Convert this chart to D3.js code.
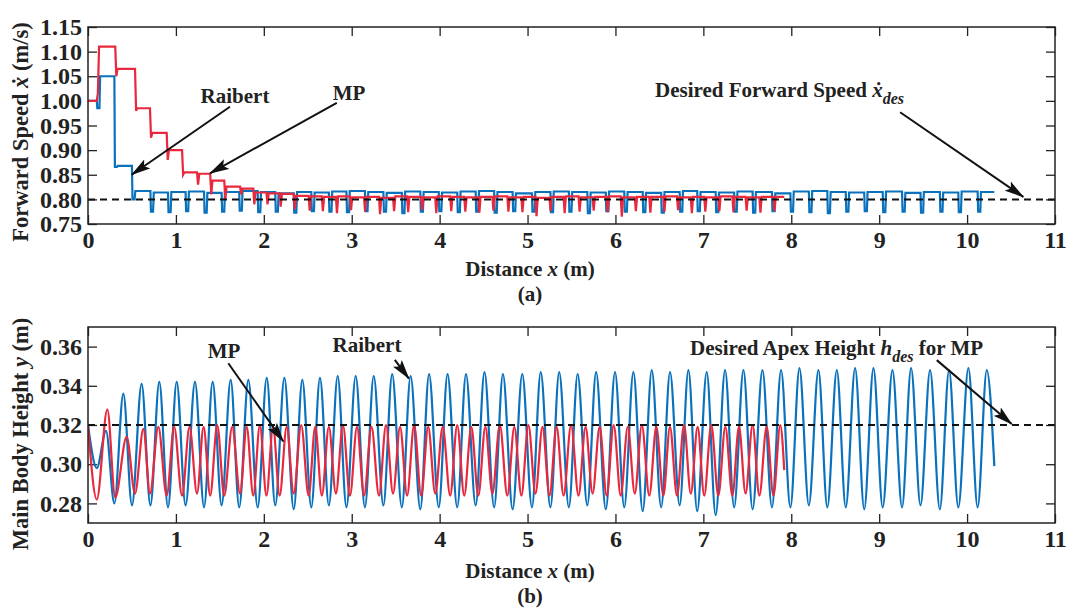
<!DOCTYPE html>
<html>
<head>
<meta charset="utf-8">
<script src="https://cdn.jsdelivr.net/npm/d3@7"></script>
<style>
body { margin: 0; background: #fff; }
svg { font-family: "Liberation Serif", "Times New Roman", serif; font-weight: bold; }
</style>
</head>
<body>
<div id="chart"></div>
<script>
// ---- data ----
const distTicks = [0, 1, 2, 3, 4, 5, 6, 7, 8, 9, 10, 11]
const speedTicks = [0.75, 0.80, 0.85, 0.90, 0.95, 1.00, 1.05, 1.10, 1.15]
const heightTicks = [0.28, 0.30, 0.32, 0.34, 0.36]
const desiredSpeed = 0.80
const desiredHeight = 0.32

// Raibert (blue): touchdown positions (m), apex positions (m)
const raibertTouchX = [0.10, 0.30, 0.50, 0.71, 0.91, 1.11, 1.32, 1.52, 1.72, 1.93, 2.13, 2.34, 2.54, 2.74, 2.94, 3.15,
  3.36, 3.57, 3.78, 3.99, 4.20, 4.41, 4.62, 4.83, 5.05, 5.26, 5.47, 5.68, 5.89, 6.10, 6.31, 6.52, 6.73, 6.93,
  7.14, 7.35, 7.56, 7.78, 7.99, 8.20, 8.41, 8.62, 8.83, 9.04, 9.26, 9.47, 9.69, 9.90, 10.12]
const raibertApexX = [0.205, 0.402, 0.61, 0.811, 1.009, 1.217, 1.418, 1.623, 1.824, 2.033, 2.234, 2.438, 2.639, 2.84, 3.045,
  3.25, 3.46, 3.67, 3.88, 4.09, 4.30, 4.51, 4.72, 4.94, 5.15, 5.36, 5.57, 5.78, 5.995, 6.204, 6.413, 6.621, 6.83,
  7.038, 7.247, 7.456, 7.672, 7.884, 8.093, 8.309, 8.518, 8.726, 8.935, 9.151, 9.363, 9.579, 9.795, 10.015, 10.224]
const raibertApexY = [0.317, 0.336, 0.341, 0.342, 0.342, 0.342, 0.342, 0.343, 0.343, 0.344, 0.344, 0.343, 0.344, 0.345, 0.345,
  0.345, 0.346, 0.345, 0.346, 0.346, 0.346, 0.347, 0.346, 0.346, 0.347, 0.347, 0.346, 0.347, 0.347, 0.347, 0.348, 0.347,
  0.348, 0.347, 0.348, 0.348, 0.348, 0.348, 0.349, 0.348, 0.348, 0.349, 0.349, 0.348, 0.349, 0.348, 0.348, 0.349, 0.348]
const raibertLowY = [0.298, 0.280, 0.279, 0.279, 0.278, 0.279, 0.278, 0.279, 0.278, 0.278, 0.279, 0.277, 0.278, 0.279, 0.278,
  0.278, 0.279, 0.278, 0.277, 0.278, 0.278, 0.279, 0.278, 0.277, 0.278, 0.278, 0.278, 0.279, 0.277, 0.278, 0.276, 0.278,
  0.279, 0.276, 0.274, 0.278, 0.277, 0.278, 0.278, 0.279, 0.278, 0.278, 0.277, 0.278, 0.278, 0.279, 0.277, 0.278, 0.278]
const raibertSpeed = [1.05, 0.868, 0.817, 0.814, 0.815, 0.816, 0.813, 0.815, 0.817, 0.815, 0.812, 0.815, 0.814, 0.816, 0.817,
  0.815, 0.813, 0.816, 0.815, 0.814, 0.816, 0.817, 0.815, 0.812, 0.815, 0.816, 0.815, 0.814, 0.816, 0.815, 0.813, 0.815,
  0.817, 0.815, 0.814, 0.816, 0.815, 0.812, 0.816, 0.817, 0.815, 0.814, 0.815, 0.816, 0.813, 0.815, 0.814, 0.816, 0.815]
const raibertDip = [0.985, 0.866, 0.80, 0.775, 0.774, 0.776, 0.773, 0.775, 0.777, 0.774, 0.775, 0.773, 0.776, 0.775, 0.774,
  0.776, 0.775, 0.772, 0.775, 0.776, 0.774, 0.775, 0.773, 0.776, 0.775, 0.774, 0.775, 0.772, 0.776, 0.775, 0.774, 0.773,
  0.775, 0.776, 0.774, 0.775, 0.773, 0.776, 0.775, 0.774, 0.772, 0.775, 0.776, 0.774, 0.775, 0.773, 0.775, 0.774, 0.775]
const raibertEnd = [10.31, 0.299]

// MP (red)
const mpTouchX = [0.10, 0.31, 0.535, 0.705, 0.895, 1.07, 1.24, 1.39, 1.55, 1.73, 1.88, 2.03, 2.18, 2.34, 2.51, 2.66,
  2.82, 2.98, 3.14, 3.31, 3.47, 3.63, 3.79, 3.95, 4.12, 4.28, 4.44, 4.60, 4.77, 4.93, 5.09, 5.25, 5.41, 5.58,
  5.74, 5.90, 6.06, 6.22, 6.385, 6.545, 6.70, 6.857, 7.01, 7.17, 7.33, 7.48, 7.637, 7.797]
const mpApexX = [0.22, 0.44, 0.63, 0.80, 0.98, 1.155, 1.315, 1.47, 1.64, 1.805, 1.955, 2.105, 2.26, 2.425, 2.585, 2.74,
  2.90, 3.06, 3.225, 3.39, 3.55, 3.71, 3.87, 4.035, 4.20, 4.36, 4.52, 4.685, 4.85, 5.01, 5.17, 5.33, 5.495, 5.66,
  5.82, 5.98, 6.14, 6.30, 6.465, 6.62, 6.78, 6.935, 7.09, 7.25, 7.405, 7.56, 7.72, 7.875]
const mpApexY = [0.328, 0.314, 0.318, 0.319, 0.319, 0.319, 0.319, 0.320, 0.319, 0.319, 0.320, 0.319, 0.319, 0.320, 0.319, 0.319,
  0.320, 0.319, 0.319, 0.320, 0.319, 0.320, 0.319, 0.319, 0.320, 0.319, 0.319, 0.320, 0.319, 0.320, 0.319, 0.319,
  0.320, 0.319, 0.319, 0.320, 0.319, 0.320, 0.319, 0.319, 0.320, 0.319, 0.320, 0.319, 0.319, 0.320, 0.319, 0.320]
const mpLowY = [0.282, 0.283, 0.285, 0.285, 0.284, 0.284, 0.285, 0.284, 0.284, 0.285, 0.284, 0.284, 0.284, 0.285, 0.284, 0.284,
  0.285, 0.284, 0.284, 0.284, 0.285, 0.284, 0.284, 0.285, 0.284, 0.284, 0.284, 0.285, 0.284, 0.284, 0.285, 0.284,
  0.284, 0.284, 0.285, 0.284, 0.284, 0.285, 0.284, 0.284, 0.284, 0.285, 0.284, 0.284, 0.284, 0.285, 0.284, 0.284]
const mpSpeed = [1.11, 1.065, 0.985, 0.935, 0.90, 0.855, 0.852, 0.838, 0.826, 0.822, 0.814, 0.812, 0.811, 0.807, 0.806,
  0.805, 0.806, 0.804, 0.805, 0.803, 0.806, 0.805, 0.804, 0.806, 0.805, 0.804, 0.805, 0.806, 0.804, 0.805, 0.803, 0.805,
  0.806, 0.804, 0.805, 0.806, 0.804, 0.805, 0.805, 0.806, 0.804, 0.805, 0.804, 0.806, 0.805, 0.804, 0.805, 0.805]
const mpDip = [1.015, 1.05, 0.98, 0.925, 0.88, 0.85, 0.83, 0.81, 0.80, 0.81, 0.79, 0.79, 0.785, 0.78, 0.777,
  0.776, 0.772, 0.778, 0.775, 0.770, 0.776, 0.774, 0.778, 0.772, 0.776, 0.775, 0.773, 0.777, 0.775, 0.774, 0.766, 0.776,
  0.772, 0.775, 0.777, 0.774, 0.765, 0.776, 0.773, 0.775, 0.778, 0.772, 0.775, 0.776, 0.774, 0.777, 0.773, 0.776]
const mpEnd = [7.92, 0.297]

const startSpeed = 1.00
const startHeight = 0.32

// ---- layout ----
const W = 1069, H = 613
const left = 88, right = 1055
const top1 = 27, bot1 = 224
const top2 = 327, bot2 = 523
const blue = "#0a72bd", red = "#e8283c"

const svg = d3.select("#chart").append("svg").attr("width", W).attr("height", H)
const defs = svg.append("defs")
defs.append("marker").attr("id", "arrow")
  .attr("markerUnits", "userSpaceOnUse")
  .attr("viewBox", "0 -6 20 12").attr("markerWidth", 20).attr("markerHeight", 12)
  .attr("refX", 19).attr("refY", 0).attr("orient", "auto")
  .append("path").attr("d", "M0,-5.5L20,0L0,5.5L4,0Z").attr("fill", "#111")

const x = d3.scaleLinear().domain([0, 11]).range([left, right])
const ySpeed = d3.scaleLinear().domain([0.75, 1.15]).range([bot1, top1])
const yHeight = d3.scaleLinear().domain([0.27, 0.37]).range([bot2, top2])

function frame(y, ticks, fmt, top, bot, clipId) {
  const g = svg.append("g")
  defs.append("clipPath").attr("id", clipId).append("rect")
    .attr("x", left).attr("y", top).attr("width", right - left).attr("height", bot - top)
  g.append("g").attr("transform", `translate(0,${bot})`)
    .call(d3.axisBottom(x).tickValues(distTicks).tickSizeInner(-9).tickSizeOuter(0).tickPadding(7).tickFormat(d3.format("d")))
  g.append("g").attr("transform", `translate(0,${top})`)
    .call(d3.axisTop(x).tickValues(distTicks).tickSizeInner(-9).tickSizeOuter(0).tickFormat(""))
  g.append("g").attr("transform", `translate(${left},0)`)
    .call(d3.axisLeft(y).tickValues(ticks).tickSizeInner(-9).tickSizeOuter(0).tickPadding(6).tickFormat(d3.format(fmt)))
  g.append("g").attr("transform", `translate(${right},0)`)
    .call(d3.axisRight(y).tickValues(ticks).tickSizeInner(-9).tickSizeOuter(0).tickFormat(""))
  g.selectAll(".domain").remove()
  g.selectAll(".tick line").attr("stroke", "#222").attr("stroke-width", 1.3)
  g.selectAll(".tick text").attr("font-size", 24).attr("font-family", "Liberation Serif").attr("font-weight", "bold").attr("fill", "#222")
  return g
}

const g1 = frame(ySpeed, speedTicks, ".2f", top1, bot1, "clip1")
const g2 = frame(yHeight, heightTicks, ".2f", top2, bot2, "clip2")

// speed traces: plateau, drop to dip at touchdown, back up to new plateau
function speedPoints(touch, dip, plateau, endX, shape) {
  const pts = [[0, startSpeed]]
  let prev = startSpeed
  touch.forEach((t, i) => {
    pts.push([t, prev])
    shape.forEach(s => pts.push([t + s[0], s[1] === "dip" ? dip[i] : plateau[i]]))
    prev = plateau[i]
  })
  pts.push([endX, prev])
  return pts
}
const uShape = [[0.006, "dip"], [0.03, "dip"], [0.038, "next"]]
const vShape = [[0.012, "dip"], [0.026, "next"]]

const lineSpeed = d3.line().x(d => x(d[0])).y(d => ySpeed(d[1]))
const plot1 = g1.append("g").attr("clip-path", "url(#clip1)")
plot1.append("path").datum(speedPoints(raibertTouchX, raibertDip, raibertSpeed, raibertEnd[0], uShape))
  .attr("d", lineSpeed).attr("fill", "none").attr("stroke", blue).attr("stroke-width", 2.2)
plot1.append("path").datum(speedPoints(mpTouchX, mpDip, mpSpeed, mpEnd[0], vShape))
  .attr("d", lineSpeed).attr("fill", "none").attr("stroke", red).attr("stroke-width", 2.2)
plot1.append("line").attr("x1", x(0)).attr("x2", x(11)).attr("y1", ySpeed(desiredSpeed)).attr("y2", ySpeed(desiredSpeed))
  .attr("stroke", "#111").attr("stroke-width", 2).attr("stroke-dasharray", "7,5")

// height traces: troughs at touchdown, apexes in flight
function heightPoints(touch, low, apexX, apexY, end) {
  const pts = [[0, startHeight]]
  touch.forEach((t, i) => {
    pts.push([t, low[i]])
    pts.push([apexX[i], apexY[i]])
  })
  pts.push(end)
  return pts
}
const lineHeight = d3.line().x(d => x(d[0])).y(d => yHeight(d[1])).curve(d3.curveMonotoneX)
const plot2 = g2.append("g").attr("clip-path", "url(#clip2)")
plot2.append("path").datum(heightPoints(raibertTouchX, raibertLowY, raibertApexX, raibertApexY, raibertEnd))
  .attr("d", lineHeight).attr("fill", "none").attr("stroke", blue).attr("stroke-width", 2.2)
plot2.append("path").datum(heightPoints(mpTouchX, mpLowY, mpApexX, mpApexY, mpEnd))
  .attr("d", lineHeight).attr("fill", "none").attr("stroke", red).attr("stroke-width", 2.2)
plot2.append("line").attr("x1", x(0)).attr("x2", x(11)).attr("y1", yHeight(desiredHeight)).attr("y2", yHeight(desiredHeight))
  .attr("stroke", "#111").attr("stroke-width", 2).attr("stroke-dasharray", "7,5")

// frames
;[[top1, bot1], [top2, bot2]].forEach(([t, b]) => {
  svg.append("rect").attr("x", left).attr("y", t).attr("width", right - left).attr("height", b - t)
    .attr("fill", "none").attr("stroke", "#222").attr("stroke-width", 1.5)
})

// axis titles
function xTitle(yBase, yCap, cap) {
  const t = svg.append("text").attr("x", 530).attr("y", yBase).attr("text-anchor", "middle").attr("font-size", 21).attr("fill", "#222")
  t.append("tspan").text("Distance ")
  t.append("tspan").attr("font-style", "italic").text("x")
  t.append("tspan").text(" (m)")
  svg.append("text").attr("x", 530).attr("y", yCap).attr("text-anchor", "middle").attr("font-size", 21).attr("fill", "#222").text(cap)
}
xTitle(276, 301, "(a)")
xTitle(578, 603, "(b)")

function yTitle(cy, parts) {
  const t = svg.append("text").attr("transform", `translate(28,${cy}) rotate(-90)`)
    .attr("text-anchor", "middle").attr("font-size", 22.5).attr("fill", "#222")
  parts.forEach(p => t.append("tspan").attr("font-style", p[1] ? "italic" : null).text(p[0]))
}
yTitle(132, [["Forward Speed ", false], ["ẋ", true], [" (m/s)", false]])
yTitle(434, [["Main Body Height ", false], ["y", true], [" (m)", false]])

// annotations
function label(g, xs, ys, parts, anchor) {
  const t = g.append("text").attr("x", xs).attr("y", ys).attr("text-anchor", anchor || "middle").attr("font-size", 21).attr("fill", "#222")
  parts.forEach(p => {
    const s = t.append("tspan").text(p.text)
    if (p.italic) s.attr("font-style", "italic")
    if (p.sub) s.attr("font-size", 16).attr("dy", 7)
    if (p.up) s.attr("dy", -7)
  })
}
function arrow(x1, y1, x2, y2) {
  svg.append("line").attr("x1", x1).attr("y1", y1).attr("x2", x2).attr("y2", y2)
    .attr("stroke", "#111").attr("stroke-width", 2).attr("marker-end", "url(#arrow)")
}

label(svg, x(1.672), ySpeed(0.996), [{ text: "Raibert" }])
arrow(x(1.615), ySpeed(0.988), x(0.497), ySpeed(0.85))
label(svg, x(2.969), ySpeed(1.002), [{ text: "MP" }])
arrow(x(2.83), ySpeed(0.996), x(1.388), ySpeed(0.853))
label(svg, x(6.45), ySpeed(1.008), [{ text: "Desired Forward Speed " }, { text: "ẋ", italic: true }, { text: "des", italic: true, sub: true }], "start")
arrow(x(9.238), ySpeed(0.977), x(10.64), ySpeed(0.805))

label(svg, x(1.547), yHeight(0.3542), [{ text: "MP" }])
arrow(x(1.596), yHeight(0.3515), x(2.222), yHeight(0.3116))
label(svg, x(3.174), yHeight(0.3573), [{ text: "Raibert" }])
arrow(x(3.49), yHeight(0.3532), x(3.65), yHeight(0.3437))
label(svg, x(6.849), yHeight(0.3557), [{ text: "Desired Apex Height " }, { text: "h", italic: true }, { text: "des", italic: true, sub: true }, { text: " for MP", up: true }], "start")
arrow(x(9.655), yHeight(0.3531), x(10.508), yHeight(0.3205))
</script>
</body>
</html>
